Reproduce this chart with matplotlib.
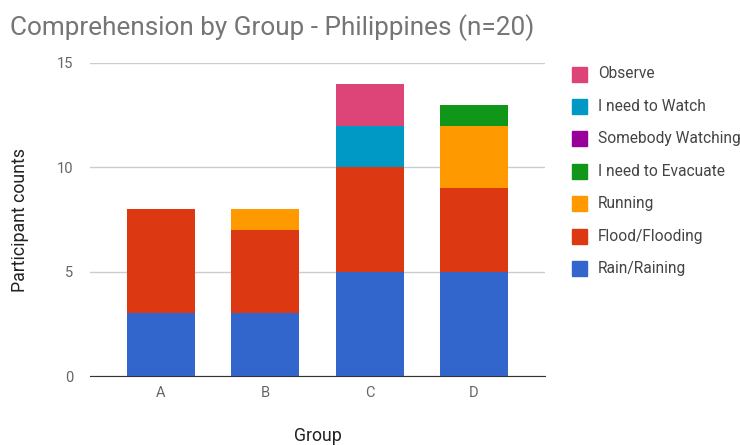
# Stacked bar chart: comprehension by group

import matplotlib.pyplot as plt
from matplotlib.patches import Rectangle
import numpy as np

plt.rcParams['font.family'] = ['Roboto', 'DejaVu Sans']

groups = ['A', 'B', 'C', 'D']
series = ['Rain/Raining', 'Flood/Flooding', 'Running', 'I need to Evacuate',
          'Somebody Watching', 'I need to Watch', 'Observe']
values = {
    'Rain/Raining':       [3, 3, 5, 5],
    'Flood/Flooding':     [5, 4, 5, 4],
    'Running':            [0, 1, 0, 3],
    'I need to Evacuate': [0, 0, 0, 1],
    'Somebody Watching':  [0, 0, 0, 0],
    'I need to Watch':    [0, 0, 2, 0],
    'Observe':            [0, 0, 2, 0],
}
colors = {
    'Rain/Raining': '#3366cc',
    'Flood/Flooding': '#dc3912',
    'Running': '#ff9900',
    'I need to Evacuate': '#109618',
    'Somebody Watching': '#990099',
    'I need to Watch': '#0099c6',
    'Observe': '#dd4477',
}

W, H = 740, 445
fig = plt.figure(figsize=(W / 100, H / 100), dpi=100)
ax = fig.add_axes([90 / W, 1 - 376 / H, 455 / W, 313 / H])

x = np.arange(len(groups))
bottom = np.zeros(len(groups))
for s in series:
    v = np.array(values[s], dtype=float)
    ax.bar(x, v, width=0.65, bottom=bottom, color=colors[s], zorder=3)
    bottom += v

ax.set_xlim(-0.68, 3.68)
ax.set_ylim(0, 15)
ax.set_yticks([0, 5, 10, 15])
ax.set_xticks(x)
ax.set_xticklabels(groups)
ax.tick_params(length=0, colors='#666666', labelsize=10.5)
ax.tick_params(axis='y', pad=12)
ax.tick_params(axis='x', pad=7)
ax.grid(axis='y', color='#cccccc', linewidth=1, zorder=0)
for sp in ['top', 'right', 'left']:
    ax.spines[sp].set_visible(False)
ax.spines['bottom'].set_color('#333333')
ax.spines['bottom'].set_zorder(4)

ax.set_ylabel('Participant counts', fontsize=12.8, color='#222222', va='center')
ax.yaxis.set_label_coords((20 - 90) / 455, 0.5)
ax.set_xlabel('Group', fontsize=12.8, color='#222222', va='center')
ax.xaxis.set_label_coords(0.5, (376 - 436) / 313)

fig.text(10 / W, 1 - 28 / H, 'Comprehension by Group - Philippines (n=20)',
         fontsize=18.8, color='#757575', va='center', ha='left')

# legend drawn by hand, top to bottom
for i, s in enumerate(series[::-1]):
    yc = 74 + i * 32.4
    fig.add_artist(Rectangle((572 / W, 1 - (yc + 7.5) / H), 15 / W, 15 / H,
                             transform=fig.transFigure, color=colors[s]))
    fig.text(598 / W, 1 - yc / H, s, fontsize=11.2, color='#444444',
             va='center', ha='left')

fig.savefig('out.png', dpi=100)
